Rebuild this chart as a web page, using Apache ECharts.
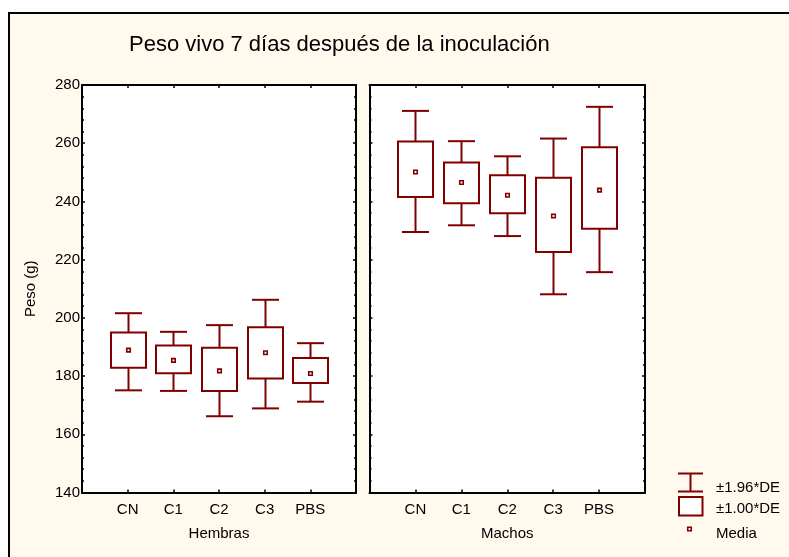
<!DOCTYPE html>
<html>
<head>
<meta charset="utf-8">
<script src="https://cdn.jsdelivr.net/npm/echarts@6/dist/echarts.min.js"></script>
<style>
html,body{margin:0;padding:0;background:#fff;}
#c{width:789px;height:557px;}
</style>
</head>
<body>
<div id="c"></div>
<script>
const categories = ['CN', 'C1', 'C2', 'C3', 'PBS'];
const groupNames = ['Hembras', 'Machos'];
const yTicks = [140, 160, 180, 200, 220, 240, 260, 280];

const hembrasMean      = [188.9, 185.4, 181.8, 188.0, 180.9];
const hembrasBoxLow    = [182.9, 181.0, 174.9, 179.2, 177.6];
const hembrasBoxHigh   = [195.0, 190.5, 189.7, 196.8, 186.2];
const hembrasWhiskLow  = [175.1, 174.9, 166.2, 168.9, 171.2];
const hembrasWhiskHigh = [201.6, 195.2, 197.5, 206.2, 191.3];

const machosMean      = [250.1, 246.5, 242.1, 235.0, 243.9];
const machosBoxLow    = [241.5, 239.4, 235.9, 222.6, 230.6];
const machosBoxHigh   = [260.6, 253.4, 249.0, 248.1, 258.6];
const machosWhiskLow  = [229.5, 231.8, 228.1, 208.1, 215.7];
const machosWhiskHigh = [271.1, 260.7, 255.5, 261.6, 272.5];

const legendLabels = ['±1.96*DE', '±1.00*DE', 'Media'];

const RED = '#800000';
const FONT = 'Liberation Sans';
const FS = 15;

function rows(wl, bl, m, bh, wh) {
  return categories.map((c, i) => [i + 1, wl[i], bl[i], m[i], bh[i], wh[i]]);
}

function renderItem(params, api) {
  const x = api.value(0);
  const pWL = api.coord([x, api.value(1)]);
  const pBL = api.coord([x, api.value(2)]);
  const pM  = api.coord([x, api.value(3)]);
  const pBH = api.coord([x, api.value(4)]);
  const pWH = api.coord([x, api.value(5)]);
  const cx = Math.round(pM[0]) + 0.5;
  const bw = 35, cw = 27;
  const ls = {stroke: RED, lineWidth: 2, fill: null};
  return {
    type: 'group',
    children: [
      {type: 'line', shape: {x1: cx, y1: pWH[1], x2: cx, y2: pBH[1]}, style: ls},
      {type: 'line', shape: {x1: cx, y1: pBL[1], x2: cx, y2: pWL[1]}, style: ls},
      {type: 'line', shape: {x1: cx - cw / 2, y1: pWH[1], x2: cx + cw / 2, y2: pWH[1]}, style: ls},
      {type: 'line', shape: {x1: cx - cw / 2, y1: pWL[1], x2: cx + cw / 2, y2: pWL[1]}, style: ls},
      {type: 'rect', shape: {x: cx - bw / 2, y: pBH[1], width: bw, height: pBL[1] - pBH[1]}, style: {stroke: RED, lineWidth: 2, fill: 'rgba(0,0,0,0)'}},
      {type: 'rect', shape: {x: cx - 1.75, y: pM[1] - 1.75, width: 3.5, height: 3.5}, style: {stroke: RED, lineWidth: 1.6, fill: '#fff'}}
    ]
  };
}

const gridTop = 85, gridH = 407.5;
const grids = [
  {left: 82, top: gridTop, width: 274, height: gridH, show: true, backgroundColor: '#fff', borderWidth: 0},
  {left: 369.5, top: gridTop, width: 275.5, height: gridH, show: true, backgroundColor: '#fff', borderWidth: 0}
];

const axLine = {show: true, onZero: false, lineStyle: {color: '#000', width: 2}};
function xAx(gi, pos, withLabels) {
  return {
    type: 'value', gridIndex: gi, position: pos, min: 0, max: 6, interval: 1,
    axisLine: axLine,
    axisTick: {show: true, inside: true, length: 3, lineStyle: {color: '#000', width: 1.5}},
    splitLine: {show: false},
    axisLabel: withLabels ? {
      show: true, margin: 10, color: '#000', fontFamily: FONT, fontSize: FS,
      formatter: v => (v >= 1 && v <= categories.length) ? categories[v - 1] : ''
    } : {show: false},
    name: withLabels ? groupNames[gi] : '',
    nameLocation: 'middle', nameGap: 34,
    nameTextStyle: {color: '#000', fontFamily: FONT, fontSize: FS}
  };
}
function yAx(gi, pos, withLabels) {
  return {
    type: 'value', gridIndex: gi, position: pos, min: yTicks[0], max: yTicks[yTicks.length - 1], interval: 20,
    axisLine: axLine,
    axisTick: {show: true, inside: true, length: 3, lineStyle: {color: '#000', width: 1.5}},
    minorTick: {show: true, splitNumber: 5, length: 2, lineStyle: {color: '#000', width: 1.5}},
    splitLine: {show: false},
    axisLabel: withLabels ? {show: true, margin: 2, color: '#000', fontFamily: FONT, fontSize: FS} : {show: false},
    name: withLabels ? 'Peso (g)' : '',
    nameLocation: 'middle', nameGap: 44,
    nameTextStyle: {color: '#000', fontFamily: FONT, fontSize: FS}
  };
}

const option = {
  backgroundColor: '#fff',
  animation: false,
  title: {
    text: 'Peso vivo 7 días después de la inoculación',
    left: 124, top: 29,
    textStyle: {fontFamily: FONT, fontSize: 22, fontWeight: 'normal', color: '#000'}
  },
  grid: grids,
  xAxis: [xAx(0, 'bottom', true), xAx(0, 'top', false), xAx(1, 'bottom', true), xAx(1, 'top', false)],
  yAxis: [yAx(0, 'left', true), yAx(0, 'right', false), yAx(1, 'left', false), yAx(1, 'right', false)],
  graphic: [
    {type: 'rect', z: -10, silent: true, shape: {x: 9, y: 13, width: 800, height: 600},
     style: {fill: '#FFF9EE', stroke: '#000', lineWidth: 2}},
    {type: 'group', z: 10, children: [
      {type: 'line', shape: {x1: 678, y1: 473.5, x2: 703, y2: 473.5}, style: {stroke: RED, lineWidth: 2}},
      {type: 'line', shape: {x1: 690.5, y1: 473.5, x2: 690.5, y2: 491.5}, style: {stroke: RED, lineWidth: 2}},
      {type: 'line', shape: {x1: 678, y1: 491.5, x2: 703, y2: 491.5}, style: {stroke: RED, lineWidth: 2}},
      {type: 'rect', shape: {x: 679, y: 497, width: 23.5, height: 18.5}, style: {stroke: RED, lineWidth: 2, fill: '#fff'}},
      {type: 'rect', shape: {x: 687.75, y: 527.25, width: 3.5, height: 3.5}, style: {stroke: RED, lineWidth: 1.6, fill: '#fff'}},
      {type: 'text', style: {x: 716, y: 488, text: legendLabels[0], fill: '#000', font: FS + 'px "Liberation Sans"', textVerticalAlign: 'middle'}},
      {type: 'text', style: {x: 716, y: 509, text: legendLabels[1], fill: '#000', font: FS + 'px "Liberation Sans"', textVerticalAlign: 'middle'}},
      {type: 'text', style: {x: 716, y: 534, text: legendLabels[2], fill: '#000', font: FS + 'px "Liberation Sans"', textVerticalAlign: 'middle'}}
    ]}
  ],
  series: [
    {type: 'custom', name: groupNames[0], xAxisIndex: 0, yAxisIndex: 0, renderItem: renderItem,
     encode: {x: 0, y: [1, 2, 3, 4, 5]}, clip: false,
     data: rows(hembrasWhiskLow, hembrasBoxLow, hembrasMean, hembrasBoxHigh, hembrasWhiskHigh)},
    {type: 'custom', name: groupNames[1], xAxisIndex: 2, yAxisIndex: 2, renderItem: renderItem,
     encode: {x: 0, y: [1, 2, 3, 4, 5]}, clip: false,
     data: rows(machosWhiskLow, machosBoxLow, machosMean, machosBoxHigh, machosWhiskHigh)}
  ]
};

const chart = echarts.init(document.getElementById('c'), null, {renderer: 'canvas'});
chart.setOption(option);
</script>
</body>
</html>
